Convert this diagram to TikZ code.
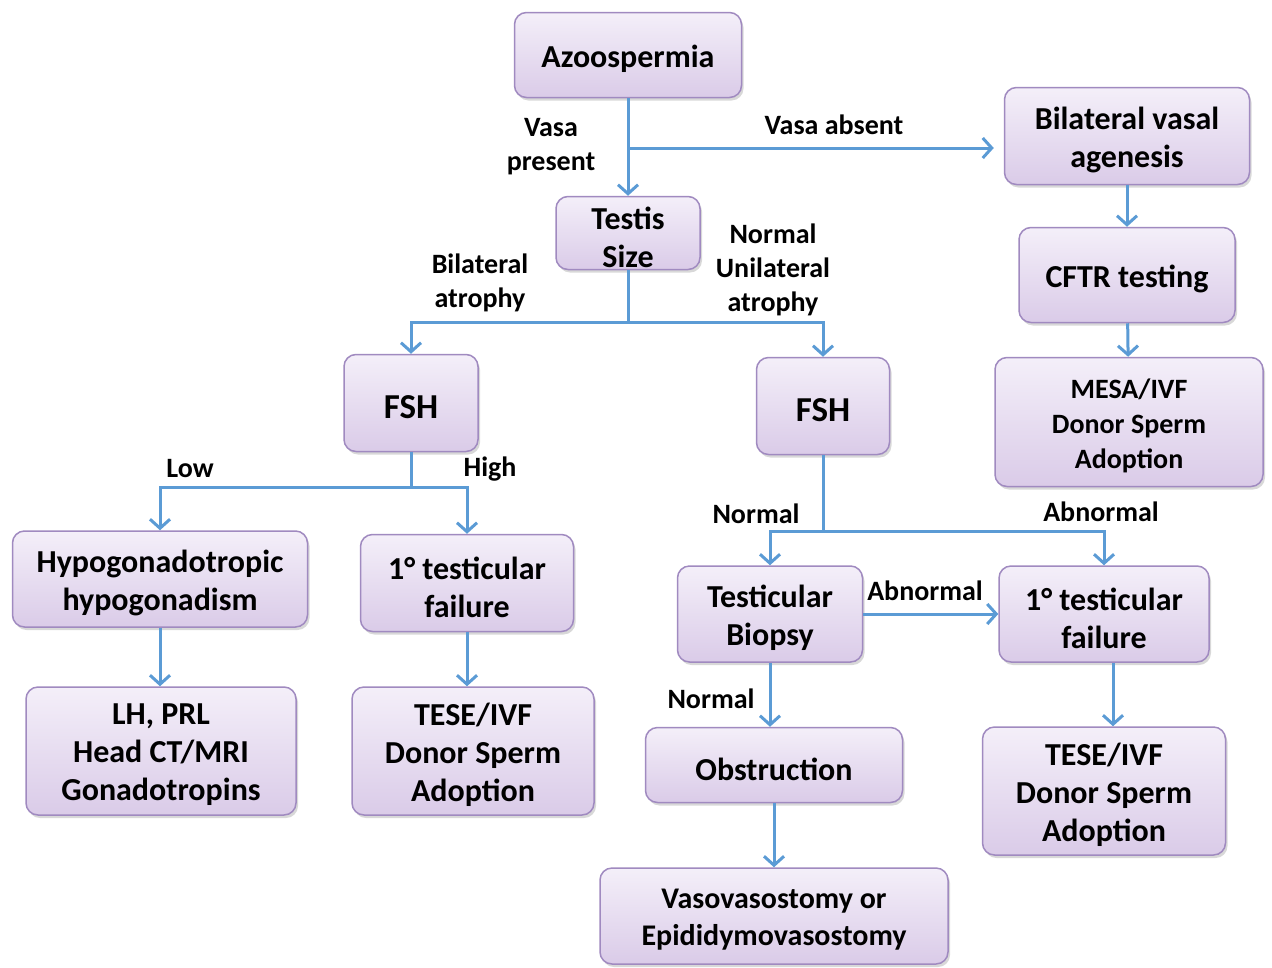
\documentclass[tikz,border=0pt]{standalone}
\usepackage{fontspec}
\setmainfont{Carlito}
\usetikzlibrary{arrows.meta,shadows}
\definecolor{boxborder}{HTML}{A08AC0}
\definecolor{boxtop}{HTML}{F4EFF9}
\definecolor{boxbot}{HTML}{DACBE8}
\definecolor{arrowblue}{HTML}{5B9BD5}
\newcommand{\bx}[6][]{%
  \node[box, minimum width=#4pt, minimum height=#5pt] (#2) at (#3) {};
  \node[boxtext, #1] (#2-t) at ([yshift=-4pt]#2.center) {#6};}
\begin{document}
\begin{tikzpicture}[x=1pt,y=-1pt,
  box/.style={draw=boxborder, line width=1.5pt, rounded corners=12pt,
    top color=boxtop, bottom color=boxbot, inner sep=0pt,
    drop shadow={shadow xshift=2pt,shadow yshift=-3pt,opacity=0.3,fill=gray}},
  boxtext/.style={align=center, font=\fontsize{32}{38}\selectfont\bfseries, inner sep=0pt},
  lab/.style={font=\fontsize{28}{34}\selectfont\bfseries, align=center, inner sep=0pt},
  arr/.style={draw=arrowblue, line width=3pt,
    -{Straight Barb[length=9pt,width=20pt,line width=3pt]}},
  ln/.style={draw=arrowblue, line width=3pt}]
\fill[white] (0,0) rectangle (1272,967);
\useasboundingbox (0,0) rectangle (1272,967);

% boxes
\bx{azo}{628,55}{227}{85}{Azoospermia}
\bx{bva}{1127,136}{245}{97}{Bilateral vasal\\agenesis}
\bx{testis}{628,233}{144}{73}{Testis\\Size}
\bx{cftr}{1127,275}{216}{95}{CFTR testing}
\bx[font=\fontsize{28}{35}\selectfont\bfseries]{mesa}{1129,422}{268}{129}{MESA/IVF\\Donor Sperm\\Adoption}
\bx[font=\fontsize{35}{40}\selectfont\bfseries]{fshL}{411,403}{134}{97}{FSH}
\bx[font=\fontsize{35}{40}\selectfont\bfseries]{fshR}{823,406}{133}{97}{FSH}
\bx{hypo}{160,579}{295}{96}{Hypogonadotropic\\hypogonadism}
\bx{tfL}{467,583}{213}{97}{1° testicular\\failure}
\bx{tb}{770,614}{185}{96}{Testicular\\Biopsy}
\bx{tfR}{1104,614}{210}{96}{1° testicular\\failure}
\bx{lh}{161,751}{270}{128}{LH, PRL\\Head CT/MRI\\Gonadotropins}
\bx{teseL}{473,751}{242}{128}{TESE/IVF\\Donor Sperm\\Adoption}
\bx{obs}{774,765}{257}{75}{Obstruction}
\bx{teseR}{1104,791}{243}{128}{TESE/IVF\\Donor Sperm\\Adoption}
\bx[font=\fontsize{30}{37}\selectfont\bfseries]{vaso}{774,916}{348}{96}{Vasovasostomy or\\Epididymovasostomy}

% junctions
\coordinate (j1) at (628,148);
\coordinate (j2) at (628,322);
\coordinate (j3) at (411,487);
\coordinate (j4) at (823,531);

% connectors
\draw[arr] (azo) -- (testis);
\draw[arr, shorten >=10pt] (j1) -- (j1 -| bva.west);
\draw[ln] (testis) -- (j2);
\draw[arr] (j2) -| (fshL);
\draw[arr] (j2) -| (fshR);
\draw[arr] (bva) -- (cftr);
\draw[arr] (cftr) -- (mesa);
\draw[ln] (fshL) -- (j3);
\draw[arr] (j3) -| (hypo);
\draw[arr] (j3) -| (tfL);
\draw[ln] (fshR.south) -- (j4);
\draw[arr] (j4) -| (tb);
\draw[arr] (j4) -| (tfR);
\draw[arr] (tb) -- (tfR);
\draw[arr] (tb.south) -- (tb.south |- obs.north);
\draw[arr] (obs) -- (vaso);
\draw[arr] (hypo) -- (hypo |- lh.north);
\draw[arr] (tfL.south) -- (tfL.south |- teseL.north);
\draw[arr] ([xshift=9pt]tfR.south) -- ([xshift=9pt]tfR.south |- teseR.north);

% labels
\node[lab] (lvp) at (551,147) {Vasa\\present};
\node[lab] (lva) at (834,125) {Vasa absent};
\node[lab] (lba) at (480,283) {Bilateral\\atrophy};
\node[lab] (lnu) at (773,270) {Normal\\Unilateral\\atrophy};
\node[lab] (llow) at (190,469) {Low};
\node[lab] (lhigh) at (490,469) {High};
\node[lab] (ln1) at (756,514) {Normal};
\node[lab] (la1) at (1101,512) {Abnormal};
\node[lab] (la2) at (925,591) {Abnormal};
\node[lab] (ln2) at (711,699) {Normal};
\end{tikzpicture}
\end{document}
